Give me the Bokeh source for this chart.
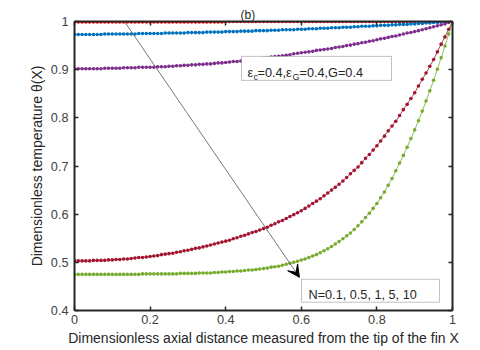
from bokeh.plotting import figure
from bokeh.models import Range1d, LinearAxis, FixedTicker, BoxAnnotation, Label, Arrow, VeeHead
from bokeh.embed import file_html
from bokeh.resources import INLINE

# Sample positions along the fin (0.01 steps, one marker each)
X = [i / 100 for i in range(101)]

# theta(X), rows of 10 points (X = 0.00-0.09, 0.10-0.19, ...)
theta_N01 = [
    0.999, 0.999, 0.999, 0.999, 0.999, 0.999, 0.999, 0.999, 0.999, 0.999,
    0.999, 0.999, 0.999, 0.999, 0.999, 0.999, 0.999, 0.999, 0.999, 0.999,
    0.999, 0.999, 0.999, 0.999, 0.999, 0.999, 0.999, 0.999, 0.999, 0.999,
    0.999, 0.999, 0.999, 0.999, 0.999, 0.999, 0.999, 0.999, 0.999, 0.999,
    1.000, 1.000, 1.000, 1.000, 1.000, 1.000, 1.000, 1.000, 1.000, 1.000,
    1.000, 1.000, 1.000, 1.000, 1.000, 1.000, 1.000, 1.000, 1.000, 1.000,
    1.000, 1.000, 1.000, 1.000, 1.000, 1.000, 1.000, 1.000, 1.000, 1.000,
    1.000, 1.000, 1.000, 1.000, 1.000, 1.000, 1.000, 1.000, 1.000, 1.000,
    1.000, 1.000, 1.000, 1.000, 1.000, 1.000, 1.000, 1.000, 1.000, 1.000,
    1.000, 1.000, 1.000, 1.000, 1.000, 1.000, 1.000, 1.000, 1.000, 1.000,
    1.000,
]
theta_N05 = [
    0.973, 0.973, 0.973, 0.973, 0.973, 0.973, 0.973, 0.973, 0.974, 0.974,
    0.974, 0.974, 0.974, 0.974, 0.974, 0.974, 0.974, 0.975, 0.975, 0.975,
    0.975, 0.975, 0.975, 0.975, 0.976, 0.976, 0.976, 0.976, 0.976, 0.976,
    0.977, 0.977, 0.977, 0.977, 0.977, 0.978, 0.978, 0.978, 0.978, 0.978,
    0.979, 0.979, 0.979, 0.979, 0.980, 0.980, 0.980, 0.980, 0.981, 0.981,
    0.981, 0.981, 0.982, 0.982, 0.982, 0.983, 0.983, 0.983, 0.983, 0.984,
    0.984, 0.984, 0.985, 0.985, 0.985, 0.986, 0.986, 0.986, 0.987, 0.987,
    0.987, 0.988, 0.988, 0.988, 0.989, 0.989, 0.990, 0.990, 0.990, 0.991,
    0.991, 0.992, 0.992, 0.992, 0.993, 0.993, 0.994, 0.994, 0.994, 0.995,
    0.995, 0.996, 0.996, 0.997, 0.997, 0.998, 0.998, 0.999, 0.999, 1.000,
    1.000,
]
theta_N1 = [
    0.902, 0.902, 0.902, 0.902, 0.902, 0.902, 0.902, 0.902, 0.903, 0.903,
    0.903, 0.903, 0.903, 0.904, 0.904, 0.904, 0.904, 0.905, 0.905, 0.905,
    0.905, 0.905, 0.906, 0.906, 0.906, 0.907, 0.907, 0.908, 0.908, 0.909,
    0.909, 0.910, 0.910, 0.911, 0.911, 0.912, 0.912, 0.913, 0.914, 0.914,
    0.915, 0.916, 0.917, 0.917, 0.918, 0.919, 0.920, 0.921, 0.922, 0.923,
    0.924, 0.925, 0.926, 0.927, 0.928, 0.929, 0.930, 0.931, 0.933, 0.934,
    0.935, 0.936, 0.937, 0.938, 0.940, 0.941, 0.942, 0.943, 0.944, 0.946,
    0.947, 0.948, 0.950, 0.951, 0.953, 0.954, 0.956, 0.957, 0.959, 0.960,
    0.962, 0.964, 0.965, 0.967, 0.969, 0.970, 0.972, 0.974, 0.976, 0.977,
    0.979, 0.981, 0.983, 0.985, 0.987, 0.989, 0.991, 0.993, 0.995, 0.998,
    1.000,
]
theta_N5 = [
    0.503, 0.503, 0.503, 0.503, 0.503, 0.504, 0.504, 0.504, 0.504, 0.505,
    0.505, 0.506, 0.506, 0.507, 0.507, 0.508, 0.509, 0.510, 0.510, 0.511,
    0.512, 0.513, 0.514, 0.516, 0.517, 0.518, 0.519, 0.521, 0.522, 0.524,
    0.525, 0.527, 0.529, 0.530, 0.532, 0.534, 0.536, 0.538, 0.540, 0.542,
    0.544, 0.546, 0.549, 0.551, 0.554, 0.556, 0.559, 0.562, 0.564, 0.567,
    0.570, 0.573, 0.577, 0.580, 0.584, 0.587, 0.591, 0.595, 0.599, 0.603,
    0.607, 0.612, 0.617, 0.622, 0.627, 0.632, 0.638, 0.644, 0.650, 0.656,
    0.662, 0.669, 0.676, 0.684, 0.691, 0.698, 0.707, 0.716, 0.724, 0.733,
    0.742, 0.752, 0.762, 0.773, 0.783, 0.793, 0.805, 0.817, 0.828, 0.840,
    0.852, 0.866, 0.880, 0.893, 0.907, 0.921, 0.937, 0.953, 0.968, 0.984,
    1.000,
]
theta_N10 = [
    0.475, 0.475, 0.475, 0.475, 0.475, 0.475, 0.475, 0.475, 0.475, 0.475,
    0.475, 0.475, 0.475, 0.475, 0.475, 0.475, 0.475, 0.475, 0.476, 0.476,
    0.476, 0.476, 0.476, 0.476, 0.476, 0.476, 0.476, 0.476, 0.477, 0.477,
    0.477, 0.477, 0.477, 0.478, 0.478, 0.478, 0.478, 0.479, 0.479, 0.480,
    0.480, 0.481, 0.481, 0.482, 0.482, 0.483, 0.484, 0.484, 0.485, 0.486,
    0.487, 0.488, 0.490, 0.491, 0.492, 0.494, 0.496, 0.498, 0.500, 0.502,
    0.505, 0.507, 0.510, 0.513, 0.516, 0.520, 0.524, 0.528, 0.533, 0.538,
    0.543, 0.549, 0.555, 0.561, 0.568, 0.576, 0.584, 0.593, 0.602, 0.612,
    0.622, 0.634, 0.646, 0.660, 0.674, 0.690, 0.706, 0.722, 0.739, 0.757,
    0.775, 0.794, 0.814, 0.835, 0.856, 0.878, 0.901, 0.925, 0.949, 0.974,
    1.000,
]

series_names = ["N=0.1", "N=0.5", "N=1", "N=5", "N=10"]
series_values = [theta_N01, theta_N05, theta_N1, theta_N5, theta_N10]
series_colors = ["#FF0000", "#0072BD", "#7E2F8E", "#A2142F", "#77AC30"]

x_ticks = [0, 0.2, 0.4, 0.6, 0.8, 1]
x_tick_labels = ["0", "0.2", "0.4", "0.6", "0.8", "1"]
y_ticks = [0.4, 0.5, 0.6, 0.7, 0.8, 0.9, 1]
y_tick_labels = ["0.4", "0.5", "0.6", "0.7", "0.8", "0.9", "1"]

x_label = "Dimensionless axial distance measured from the tip of the fin X"
y_label = "Dimensionless temperature \u03b8(X)"
panel_label = "(b)"
param_pieces = [("\u03b5", False, 0), ("c", True, 6), ("=0.4,\u03b5", False, 10),
                ("G", True, 45), ("=0.4,G=0.4", False, 52)]
n_text = "N=0.1, 0.5, 1, 5, 10"

FONT = "Liberation Sans"
INK = "#262626"
TICK_FS = "12.7px"
LABEL_FS = "14px"

p = figure(width=480, height=350, x_range=Range1d(0, 1), y_range=Range1d(0.4, 1),
           output_backend="svg", toolbar_location=None,
           min_border_left=74, min_border_right=28, min_border_top=21, min_border_bottom=40)
p.xgrid.visible = False
p.ygrid.visible = False
p.outline_line_color = None
p.background_fill_color = "white"
p.border_fill_color = "white"

# panel label as the (small, left-offset) title
p.title.text = panel_label
p.title.align = "left"
p.title.offset = 166
p.title.standoff = 0
p.title.text_font = FONT
p.title.text_font_size = "12px"
p.title.text_font_style = "normal"
p.title.text_color = INK


def style_axis(ax, ticks, labels, show):
    ax.ticker = FixedTicker(ticks=ticks)
    ax.major_tick_in = 4
    ax.major_tick_out = 0
    ax.minor_tick_line_color = None
    ax.axis_line_width = 2
    ax.axis_line_color = INK
    ax.major_tick_line_color = INK
    ax.major_tick_line_width = 1.5
    ax.major_label_text_font = FONT
    ax.major_label_text_color = "#404040"
    if show:
        ax.major_label_overrides = {t: s for t, s in zip(ticks, labels)}
        ax.major_label_text_font_size = TICK_FS
    else:
        ax.major_label_overrides = {t: "" for t in ticks}
        ax.major_label_text_font_size = "0px"
        ax.major_label_standoff = 0


xa = p.xaxis[0]
ya = p.yaxis[0]
style_axis(xa, x_ticks, x_tick_labels, True)
style_axis(ya, y_ticks, y_tick_labels, True)
xa.major_label_standoff = 4
ya.major_label_standoff = 6
xa.axis_label = x_label
ya.axis_label = y_label
for ax in (xa, ya):
    ax.axis_label_text_font = FONT
    ax.axis_label_text_font_size = LABEL_FS
    ax.axis_label_text_font_style = "normal"
    ax.axis_label_text_color = INK
xa.axis_label_standoff = 3
ya.axis_label_standoff = 3

top_ax = LinearAxis()
right_ax = LinearAxis()
style_axis(top_ax, x_ticks, x_tick_labels, False)
style_axis(right_ax, y_ticks, y_tick_labels, False)
p.add_layout(top_ax, "above")
p.add_layout(right_ax, "right")

for name, ys, color in zip(series_names, series_values, series_colors):
    p.line(X, ys, line_color=color, line_width=0.8)
    p.scatter(X, ys, size=3.6, fill_color=color, line_color=None)

# parameter box
p.add_layout(BoxAnnotation(left=0.4418, right=0.8386, bottom=0.8778, top=0.9276,
                           fill_color="white", fill_alpha=1.0,
                           line_color="#333333", line_width=1))
for txt, sub, off in param_pieces:
    p.add_layout(Label(x=0.4577, y=0.8923, x_offset=off, y_offset=(-4 if sub else 0),
                       text=txt, text_font=FONT,
                       text_font_size=("9px" if sub else TICK_FS),
                       text_color=INK, text_baseline="alphabetic", text_align="left"))

# N box
p.add_layout(BoxAnnotation(left=0.6005, right=0.9656, bottom=0.4172, top=0.4649,
                           fill_color="white", fill_alpha=1.0,
                           line_color="#333333", line_width=1))
p.add_layout(Label(x=0.619, y=0.4317, text=n_text, text_font=FONT,
                   text_font_size=TICK_FS, text_color=INK,
                   text_baseline="alphabetic", text_align="left"))

# arrow
p.add_layout(Arrow(end=VeeHead(size=12, fill_color="black", line_color="black"),
                   x_start=0.1323, y_start=1.0, x_end=0.595, y_end=0.469,
                   line_color="#555555", line_width=0.8))

open("out.html", "w").write(file_html(p, INLINE))
